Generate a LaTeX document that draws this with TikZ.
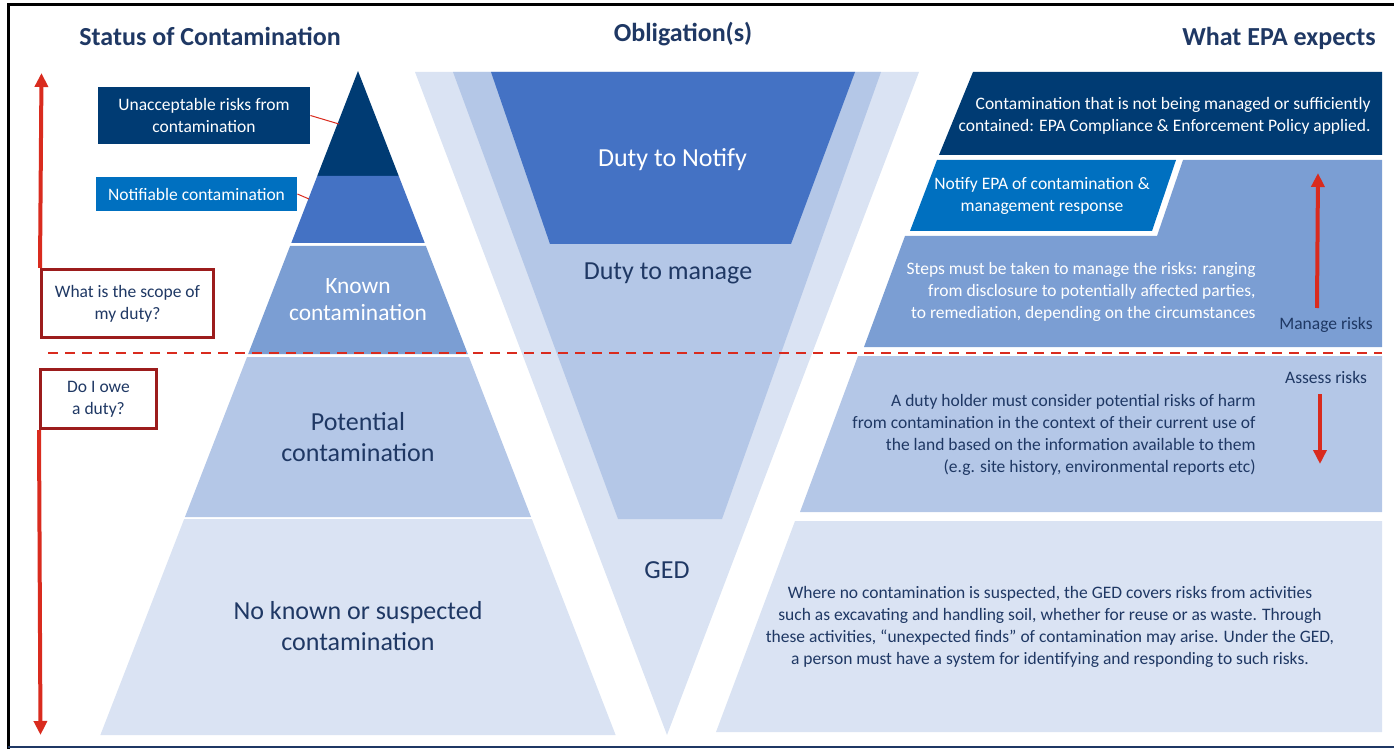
\documentclass[tikz,border=0pt]{standalone}
\usepackage{fontspec}
\setmainfont{Carlito}
\usetikzlibrary{positioning,arrows.meta}
\definecolor{epaNavy}{HTML}{003B73}
\definecolor{epaText}{HTML}{1F3864}
\definecolor{epaBlue}{HTML}{4472C4}
\definecolor{epaBright}{HTML}{0070C0}
\definecolor{epaMid}{HTML}{7B9ED3}
\definecolor{epaLight}{HTML}{B4C7E7}
\definecolor{epaPale}{HTML}{DAE3F3}
\definecolor{epaRed}{HTML}{D92B1E}
\definecolor{epaDarkRed}{HTML}{9C1C1C}
\newcommand{\bodySize}{\fontsize{8.75}{11}\selectfont}
\newcommand{\bigSize}{\fontsize{13}{15.5}\selectfont}
\newcommand{\pyrSlice}[3]{\fill[#1] ({358-(#2-71)*0.388},#2) -- ({358+(#2-71)*0.388},#2) -- ({358+(#3-71)*0.388},#3) -- ({358-(#3-71)*0.388},#3) -- cycle;}

\begin{document}
\begin{tikzpicture}[x=0.5pt, y=-0.5pt,
	title/.style={font=\bfseries\fontsize{13}{15}\selectfont, text=epaText},
	tag/.style={font=\bodySize, text=white, align=center, inner sep=0pt},
	question/.style={draw=epaDarkRed, line width=1.5pt, fill=white, font=\bodySize, text=epaText, align=center},
	layer/.style={font=\bigSize, align=center},
	note/.style={font=\bodySize, align=right, anchor=east, inner sep=0pt},
	redarrow/.style={draw=epaRed, line width=2pt, -{Triangle[length=7pt,width=6.5pt]}},
	leader/.style={draw=epaRed, line width=0.5pt}]

	\useasboundingbox (0,0) rectangle (1394,749);
	% frame
	\draw[black, line width=1.5pt] (8,749) -- (8,5) -- (1394,5);
	\draw[epaText, line width=1pt] (8,747) -- (1394,747);

	\node[title] (status) at (210,36) {Status of Contamination};
	\node[title] (oblig) at (683,34) {Obligation(s)};
	\node[title] (expects) at (1279,38) {What EPA expects};

	% pyramid
	\pyrSlice{epaNavy}{71}{176}
	\pyrSlice{epaBlue}{176}{243}
	\pyrSlice{epaMid}{246}{354}
	\pyrSlice{epaLight}{357}{517}
	\pyrSlice{epaPale}{519}{735}

	% funnel
	\fill[epaPale] (415,72) -- (919,72) -- (667,735) -- cycle;
	\fill[epaLight] (453,72) -- (881,72) -- (722,519) -- (618,519) -- cycle;
	\fill[epaBlue] (491,72) -- (855,72) -- (791,244) -- (550,244) -- cycle;

	% panels
	\fill[epaNavy] (973,72) -- (1382,72) -- (1382,155) -- (939,155) -- cycle;
	\fill[epaBright] (937,160) -- (1176,160) -- (1152,231) -- (910,231) -- cycle;
	\fill[epaMid] (1183,160) -- (1382,160) -- (1382,347) -- (864,347) -- (905,236) -- (1157,236) -- cycle;
	\fill[epaLight] (858,356) -- (1382,356) -- (1382,512) -- (800,512) -- cycle;
	\fill[epaPale] (795,521) -- (1382,521) -- (1382,732) -- (716,732) -- cycle;

	\draw[epaRed, line width=1.25pt, dash pattern=on 5pt off 3.5pt] (48,353) -- (1382,353);

	\node[tag, fill=epaNavy, minimum width=106pt, minimum height=28.5pt] (unacc) at (204,115.5) {Unacceptable risks from\\contamination};
	\node[tag, fill=epaBright, minimum width=100.5pt, minimum height=17pt] (notif) at (196.5,194) {Notifiable contamination};
	\coordinate (unaccTip) at (339,124);
	\coordinate (notifTip) at (309,199);
	\draw[leader] (unacc.east) -- (unaccTip);
	\draw[leader] (notif.east) -- (notifTip);

	\node[question, minimum width=86pt, minimum height=34pt] (scope) at (127.5,303.5) {What is the scope of\\my duty?};
	\node[question, minimum width=58pt, minimum height=29.5pt] (owe) at (98.5,399) {Do I owe\\a duty?};
	\coordinate (scopeTop) at (41.5,73);
	\coordinate (oweEnd) at (40.5,735);
	\draw[redarrow] (scope.north west) -- (scopeTop);
	\draw[redarrow] (owe.south west) -- (oweEnd);

	\node[layer, text=white, font=\fontsize{11.7}{13.5}\selectfont] (known) at (358,300) {Known\\contamination};
	\node[layer, text=epaText] (potential) at (358,437) {Potential\\contamination};
	\node[layer, text=epaText] (noknown) at (358,626) {No known or suspected\\contamination};
	\node[layer, text=white] (notify) at (672.5,160) {Duty to Notify};
	\node[layer, text=epaText] (manage) at (668,273.5) {Duty to manage};
	\node[layer, text=epaText] (ged) at (667,570) {GED};

	\node[note, text=white] (unmanaged) at (1371,115.5) {Contamination that is not being managed or sufficiently\\contained: EPA Compliance \& Enforcement Policy applied.};
	\node[tag] (notifyEPA) at (1042,196) {Notify EPA of contamination \&\\management response};
	\node[note, text=white] (steps) at (1256,292) {Steps must be taken to manage the risks: ranging\\from disclosure to potentially affected parties,\\to remediation, depending on the circumstances};
	\node[note, text=epaText] (holder) at (1256,435) {A duty holder must consider potential risks of harm\\from contamination in the context of their current use of\\the land based on the information available to them\\(e.g. site history, environmental reports etc)};
	\node[font=\bodySize, text=epaText, align=center] (nocont) at (1050,627) {Where no contamination is suspected, the GED covers risks from activities\\such as excavating and handling soil, whether for reuse or as waste. Through\\these activities, ``unexpected finds'' of contamination may arise. Under the GED,\\a person must have a system for identifying and responding to such risks.};
	\node[font=\bodySize, text=epaText] (managerisks) at (1326,325) {Manage risks};
	\node[font=\bodySize, text=epaText] (assess) at (1326,377) {Assess risks};
	\coordinate (upBase) at (1317,308);
	\coordinate (upTip) at (1318,173);
	\coordinate (downBase) at (1320,394);
	\coordinate (downTip) at (1320,464);
	\draw[redarrow] (upBase) -- (upTip);
	\draw[redarrow] (downBase) -- (downTip);
\end{tikzpicture}
\end{document}
